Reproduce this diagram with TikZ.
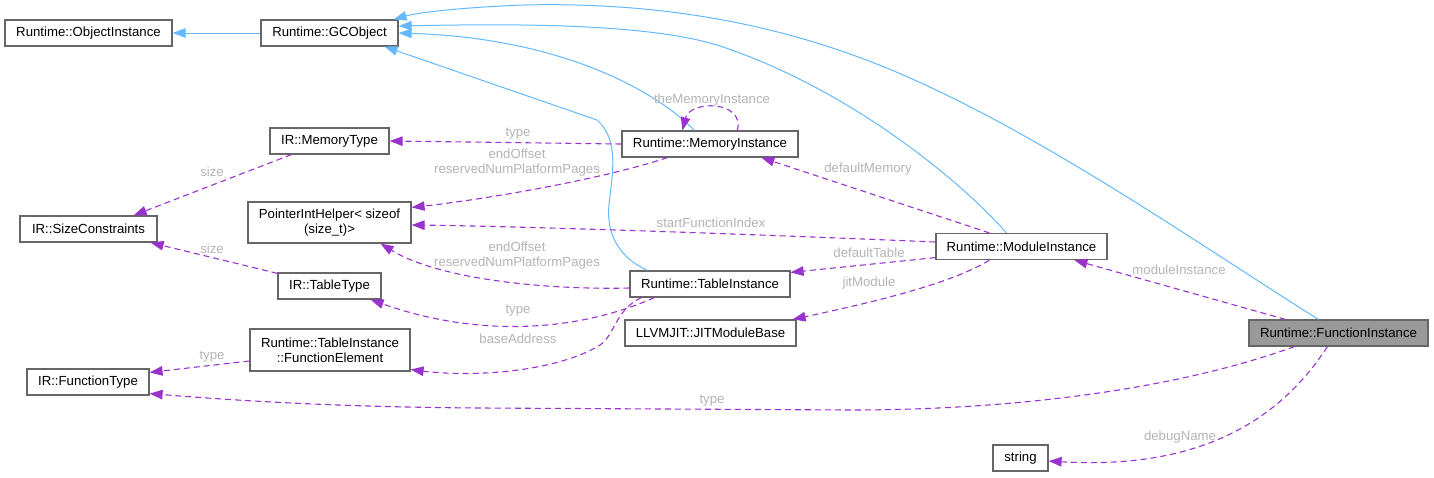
\documentclass[tikz,border=0pt]{standalone}
\usepackage{fontspec}
\setmainfont{Liberation Sans}
\usetikzlibrary{arrows.meta,calc}
\definecolor{edgeblue}{HTML}{63B8FF}
\definecolor{edgepurple}{HTML}{9A32CD}
\definecolor{boxborder}{HTML}{666666}
\definecolor{lblgray}{HTML}{B4B4B4}
\definecolor{curfill}{HTML}{999999}
\tikzset{
  box/.style={draw=boxborder,line width=1.2pt,fill=white,inner sep=0pt,minimum height=26pt,align=center,font=\fontsize{13.2}{15}\selectfont},
  lbl/.style={text=lblgray,inner sep=0pt,align=center,font=\fontsize{13.2}{15}\selectfont},
  inh/.style={draw=edgeblue,line width=1pt,-{Triangle[length=13pt,width=9.5pt]}},
  usage/.style={draw=edgepurple,line width=1.1pt,dash pattern=on 6pt off 4pt,-{Triangle[length=13pt,width=9.5pt]}},
}
\begin{document}
\begin{tikzpicture}[x=1pt,y=-1pt]
\useasboundingbox (0,0) rectangle (1434,477);
% nodes
\node[box,minimum width=167pt] (oi) at (88.5,33) {Runtime::ObjectInstance};
\node[box,minimum width=137pt] (gco) at (329.5,33) {Runtime::GCObject};
\node[box,minimum width=119pt] (mt) at (329.5,141) {IR::MemoryType};
\node[box,minimum width=137pt] (sc) at (88.5,229) {IR::SizeConstraints};
\node[box,minimum width=163pt,minimum height=41pt] (pih) at (329.5,222.5) {PointerIntHelper< sizeof\\(size\_t)>};
\node[box,minimum width=103pt] (tt) at (329.5,286) {IR::TableType};
\node[box,minimum width=160pt,minimum height=42pt] (fe) at (330,350) {Runtime::TableInstance\\::FunctionElement};
\node[box,minimum width=122pt] (ft) at (88,382) {IR::FunctionType};
\node[box,minimum width=176pt] (mi) at (710,144) {Runtime::MemoryInstance};
\node[box,minimum width=160pt] (ti) at (710,284) {Runtime::TableInstance};
\node[box,minimum width=171pt] (jit) at (710.5,333) {LLVMJIT::JITModuleBase};
\node[box,minimum width=171pt] (modi) at (1021.5,246.5) {Runtime::ModuleInstance};
\node[box,minimum width=179pt,fill=curfill] (fi) at (1338.5,333) {Runtime::FunctionInstance};
\node[box,minimum width=55pt] (str) at (1020.5,458) {string};

% inheritance edges
\draw[inh] (gco.west) -- (oi.east);
\draw[inh] ($(mi.north west)+(73,0)$) .. controls (655,90) and (560,38) .. (gco.east);
\draw[inh] ($(modi.north west)+(71,0)$) .. controls (960,180) and (850,90) .. (723,47)
   .. controls (650,22) and (500,24) .. ($(gco.east)+(0,-7)$);
\draw[inh] ($(fi.north west)+(70,0)$) .. controls (1200,245) and (1050,140) .. (910,78)
   .. controls (780,20) and (650,2) .. (523,5)
   .. controls (470,7) and (420,12) .. ($(gco.north east)+(-5,0)$);
\draw[inh] ($(ti.north west)+(18,0)$) .. controls (620,258) and (606,235) .. (609,205)
   .. controls (612,175) and (620,140) .. (597,120) -- ($(gco.south east)+(-14,0)$);

% usage edges
\draw[usage] (mi.west) -- (mt.east);
\draw[usage] ($(mi.south west)+(46,0)$) .. controls (600,180) and (480,200) .. ($(pih.north east)+(0,6)$);
\draw[usage] ($(mi.north west)+(116,0)$) .. controls (745,100) and (690,100) .. ($(mi.north west)+(61,0)$);
\draw[usage] ($(modi.north west)+(54,0)$) -- ($(mi.south west)+(140,0)$);
\draw[usage] ($(modi.west)+(0,-4.5)$) .. controls (700,232) and (500,226) .. ($(pih.east)+(0,2.5)$);
\draw[usage] ($(modi.south west)+(0,-2.5)$) -- ($(ti.north east)+(0,2)$);
\draw[usage] ($(modi.south west)+(54,0)$) .. controls (950,285) and (860,305) .. ($(jit.north east)+(-4,0)$);
\draw[usage] ($(fi.north west)+(37,0)$) -- ($(modi.south west)+(139,0)$);
\draw[usage] ($(fi.south west)+(46,0)$) .. controls (1180,388) and (1020,410) .. (850,410)
   -- (480,408) .. controls (330,407) and (230,400) .. ($(ft.south east)+(0,-2)$);
\draw[usage] ($(fi.south west)+(79,0)$) .. controls (1280,420) and (1200,470) .. ($(str.east)+(0,3)$);
\draw[usage] ($(mt.south west)+(22,0)$) -- ($(sc.north east)+(-24,0)$);
\draw[usage] ($(tt.north west)+(0,1)$) -- ($(sc.south east)+(-7,0)$);
\draw[usage] ($(ti.west)+(0,4)$) .. controls (550,290) and (440,280) .. ($(pih.south east)+(-31,0)$);
\draw[usage] ($(ti.south west)+(25,0)$) .. controls (570,335) and (470,335) .. ($(tt.south east)+(-11,0)$);
\draw[usage] ($(ti.south west)+(12,0)$) .. controls (615,310) and (615,335) .. (600,345)
   .. controls (560,370) and (480,378) .. ($(fe.south east)+(0,-2)$);
\draw[usage] ($(fe.west)+(0,11)$) -- ($(ft.north east)+(0,4)$);

% labels
\node[lbl] (l1) at (518,134) {type};
\node[lbl] (l2) at (517,163) {endOffset\\reservedNumPlatformPages};
\node[lbl] (l3) at (712,100) {theMemoryInstance};
\node[lbl] (l4) at (868,169) {defaultMemory};
\node[lbl] (l5) at (711,223) {startFunctionIndex};
\node[lbl] (l6) at (869,253) {defaultTable};
\node[lbl] (l7) at (869,283) {jitModule};
\node[lbl] (l8) at (1179,270) {moduleInstance};
\node[lbl] (l9) at (712,401) {type};
\node[lbl] (l10) at (1180,437) {debugName};
\node[lbl] (l11) at (212,172) {size};
\node[lbl] (l12) at (212,249) {size};
\node[lbl] (l13) at (517,256) {endOffset\\reservedNumPlatformPages};
\node[lbl] (l14) at (518,311) {type};
\node[lbl] (l15) at (518,339) {baseAddress};
\node[lbl] (l16) at (212,357) {type};
\end{tikzpicture}
\end{document}
